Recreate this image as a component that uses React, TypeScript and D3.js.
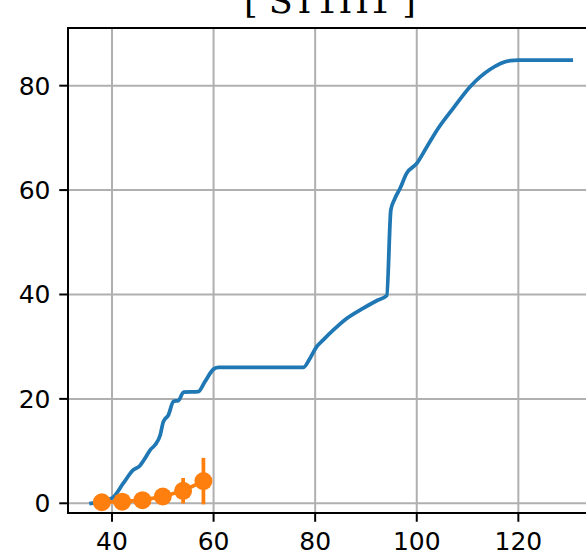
import React from "react";
import * as d3 from "d3";

const lineX = [35.9, 40, 42.2, 44.2, 45.4, 46.5, 47.5, 48.5, 49.5, 50.1, 51.1, 52.1, 53.1, 54.1, 57, 58.3, 60, 61, 70, 77.7, 79, 80.3, 81.6, 83.6, 86.2, 89.5, 92.1, 94.1, 94.9, 95.7, 96.7, 98, 100, 102, 104.2, 107.2, 110.5, 114.4, 118.4, 120, 130.4];
const lineY = [0, 1, 3.8, 6.4, 7.1, 8.6, 10.2, 11.2, 13.1, 15.6, 16.9, 19.5, 19.7, 21.3, 21.4, 23.3, 25.7, 26.05, 26.05, 26.05, 27.8, 30, 31.3, 33.2, 35.4, 37.4, 38.8, 39.8, 56.2, 58.4, 60.3, 63.2, 65.1, 68.3, 71.8, 75.7, 79.8, 83.1, 84.8, 84.9, 84.9];

const ptX = [38, 42, 46, 50, 54, 58];
const ptY = [0.2, 0.3, 0.6, 1.3, 2.4, 4.25];
const ptErr = [0.3, 0.4, 0.6, 1.0, 2.45, 4.45];

const xTicks = [40, 60, 80, 100, 120];
const yTicks = [0, 20, 40, 60, 80];
const title = "[ ST1H1 ]";

const W = 586, H = 557;
const L = 68, R = 592, T = 28, B = 513;

export default function App() {
  const x = d3.scaleLinear().domain([31.34, 134.5]).range([L, R]);
  const y = d3.scaleLinear().domain([-1.86, 91.05]).range([B, T]);
  const line = d3.line<number>().x((_, i) => x(lineX[i])).y((d) => y(d)).curve(d3.curveMonotoneX);
  const oline = d3.line<number>().x((_, i) => x(ptX[i])).y((d) => y(d));
  const font = "DejaVu Sans, sans-serif";
  return (
    <svg width={W} height={H} style={{ position: "absolute", left: 0, top: 0, background: "#fff" }}>
      <defs>
        <clipPath id="clip"><rect x={L} y={T} width={R - L} height={B - T} /></clipPath>
      </defs>
      <rect width={W} height={H} fill="#fff" />
      <g>
        {xTicks.map((t) => (
          <line key={"gx" + t} x1={x(t)} x2={x(t)} y1={T} y2={B} stroke="#b0b0b0" strokeWidth={2} />
        ))}
        {yTicks.map((t) => (
          <line key={"gy" + t} x1={L} x2={R} y1={y(t)} y2={y(t)} stroke="#b0b0b0" strokeWidth={2} />
        ))}
      </g>
      <g clipPath="url(#clip)">
        <path d={line(lineY) || ""} fill="none" stroke="#1f77b4" strokeWidth={3.75} strokeLinejoin="round" strokeLinecap="square" />
        <path d={oline(ptY) || ""} fill="none" stroke="#ff7f0e" strokeWidth={3.75} />
        {ptX.map((px, i) => (
          <line key={"e" + i} x1={x(px)} x2={x(px)} y1={y(ptY[i] - ptErr[i])} y2={y(ptY[i] + ptErr[i])} stroke="#ff7f0e" strokeWidth={3.75} />
        ))}
        {ptX.map((px, i) => (
          <circle key={"c" + i} cx={x(px)} cy={y(ptY[i])} r={9} fill="#ff7f0e" />
        ))}
      </g>
      <rect x={L} y={T} width={R - L} height={B - T} fill="none" stroke="#000" strokeWidth={2} />
      {xTicks.map((t) => (
        <g key={"tx" + t}>
          <line x1={x(t)} x2={x(t)} y1={B} y2={B + 8.75} stroke="#000" strokeWidth={2} />
          <text x={x(t)} y={B + 17.5} dy="0.76em" textAnchor="middle" fontFamily={font} fontSize={25}>{t}</text>
        </g>
      ))}
      {yTicks.map((t) => (
        <g key={"ty" + t}>
          <line x1={L - 8.75} x2={L} y1={y(t)} y2={y(t)} stroke="#000" strokeWidth={2} />
          <text x={L - 17.5} y={y(t)} dy="0.36em" textAnchor="end" fontFamily={font} fontSize={25}>{t}</text>
        </g>
      ))}
      <text x={(L + R) / 2} y={13} textAnchor="middle" fontFamily="DejaVu Serif, serif" fontSize={35}>{title}</text>
    </svg>
  );
}
